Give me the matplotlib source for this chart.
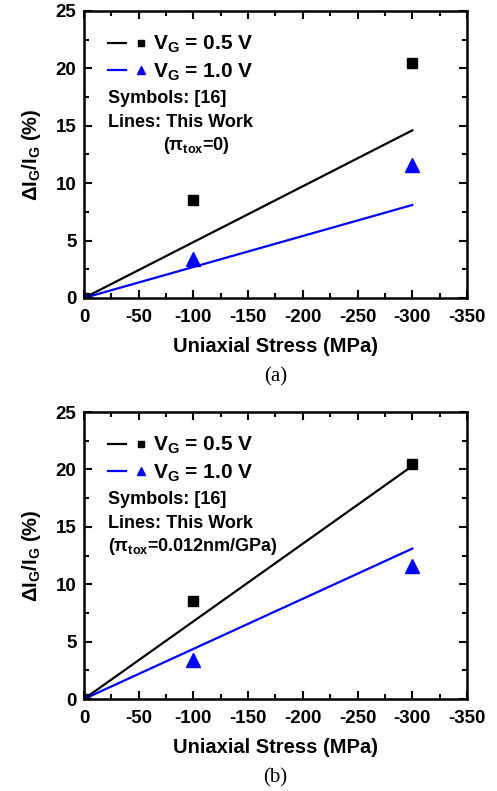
import matplotlib
matplotlib.use("Agg")
import matplotlib.pyplot as plt
from matplotlib.lines import Line2D
from matplotlib.legend_handler import HandlerTuple
from matplotlib.ticker import MultipleLocator

plt.rcParams['font.family'] = ['Liberation Sans', 'DejaVu Sans']
plt.rcParams['font.weight'] = 'bold'
plt.rcParams['axes.labelweight'] = 'bold'
plt.rcParams['mathtext.fontset'] = 'custom'
plt.rcParams['mathtext.rm'] = 'Liberation Sans:bold'
plt.rcParams['mathtext.it'] = 'Liberation Sans:bold'
plt.rcParams['mathtext.bf'] = 'Liberation Sans:bold'
plt.rcParams['axes.unicode_minus'] = False

# --- datos ---
stress_sym = [0, -100, -300]
sym_05 = [0, 8.5, 20.5]
sym_10 = [0, 3.4, 11.6]

stress_line = [0, -300]
line_a_05 = [0, 14.6]
line_a_10 = [0, 8.1]
line_b_05 = [0, 20.3]
line_b_10 = [0, 13.1]

paneles = [
    ("(a)", line_a_05, line_a_10, "(π$_{tox}$=0)", 0.205),
    ("(b)", line_b_05, line_b_10, "(π$_{tox}$=0.012nm/GPa)", 0.063),
]

fig = plt.figure(figsize=(4.97, 7.91), dpi=100)
posiciones = [[0.169, 0.6233, 0.7706, 0.3628], [0.169, 0.1163, 0.7706, 0.3628]]

for (cap, l05, l10, pitxt, pix), pos in zip(paneles, posiciones):
    ax = fig.add_axes(pos)
    ax.plot(stress_line, l05, color='black', lw=1.6)
    ax.plot(stress_line, l10, color='blue', lw=1.6)
    ax.plot(stress_sym, sym_05, 's', color='black', ms=7.5, ls='none')
    ax.plot(stress_sym, sym_10, '^', color='blue', ms=10.5, ls='none')

    ax.set_xlim(0, -350)
    ax.set_ylim(0, 25)
    ax.xaxis.set_major_locator(MultipleLocator(50))
    ax.xaxis.set_minor_locator(MultipleLocator(25))
    ax.yaxis.set_major_locator(MultipleLocator(5))
    ax.yaxis.set_minor_locator(MultipleLocator(2.5))
    ax.tick_params(which='both', direction='in', top=True, right=True, width=1.5)
    ax.tick_params(which='major', length=6, labelsize=13.5)
    ax.tick_params(axis='x', which='major', pad=8)
    ax.tick_params(axis='y', which='major', pad=5.5)
    ax.tick_params(which='minor', length=3.5)
    for sp in ax.spines.values():
        sp.set_linewidth(1.8)

    ax.set_xlabel('Uniaxial Stress (MPa)', fontsize=14.5, labelpad=8)
    ax.set_ylabel('ΔI$_G$/I$_G$ (%)', fontsize=14.5, labelpad=9)

    h05 = (Line2D([], [], color='black', lw=1.6),
           Line2D([], [], marker='s', color='black', ms=4.5, ls='none'))
    h10 = (Line2D([], [], color='blue', lw=1.6),
           Line2D([], [], marker='^', color='blue', ms=6, ls='none'))
    ax.legend([h05, h10], ['V$_G$ = 0.5 V', 'V$_G$ = 1.0 V'],
              handler_map={tuple: HandlerTuple(ndivide=None, pad=0.3)},
              loc='upper left', bbox_to_anchor=(24 / 383, 1 - 23 / 287),
              frameon=False, borderpad=0, borderaxespad=0,
              fontsize=15, handlelength=2.0, handletextpad=0.15,
              labelspacing=0.3)

    ax.text(0.063, 0.695, 'Symbols: [16]', transform=ax.transAxes, fontsize=13,
            va='center')
    ax.text(0.063, 0.612, 'Lines: This Work', transform=ax.transAxes, fontsize=13,
            va='center')
    ax.text(pix, 0.53, pitxt, transform=ax.transAxes, fontsize=13, va='center')

    ax.text(0.5, -0.275, cap, transform=ax.transAxes, ha='center', va='center',
            fontsize=15, fontweight='normal', family='Liberation Serif')

fig.savefig('out.png', dpi=100)
